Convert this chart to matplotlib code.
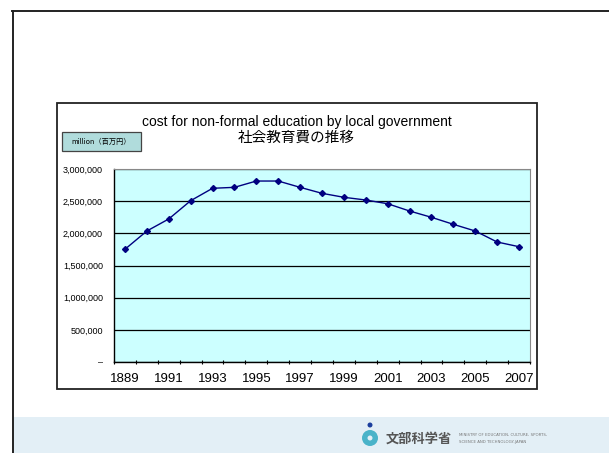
import matplotlib
matplotlib.use("Agg")
from matplotlib import pyplot as plt
from matplotlib.patches import Rectangle, Ellipse

# data (unit: million yen)
years = ["1889", "1990", "1991", "1992", "1993", "1994", "1995", "1996", "1997", "1998",
         "1999", "2000", "2001", "2002", "2003", "2004", "2005", "2006", "2007"]
cost = [1752000, 2036000, 2223000, 2507000, 2700000, 2715000, 2813000, 2813000, 2715000,
        2622000, 2560000, 2518000, 2460000, 2347000, 2249000, 2140000, 2036000, 1865000,
        1792000]
y_ticks = [0, 500000, 1000000, 1500000, 2000000, 2500000, 3000000]
y_labels = ["\u2013", "500,000", "1,000,000", "1,500,000", "2,000,000", "2,500,000", "3,000,000"]

W, H = 609, 453
fig = plt.figure(figsize=(W / 100, H / 100), dpi=100)
fig.patch.set_facecolor("white")

def fx(px):
    return px / W

def fy(py):
    return 1 - py / H

def dot(cx, cy, r, color):
    # round dot given in pixels
    fig.add_artist(Ellipse((fx(cx), fy(cy)), 2 * r / W, 2 * r / H,
                           transform=fig.transFigure, facecolor=color, edgecolor="none"))

# slide frame + bottom band
fig.add_artist(plt.Line2D([fx(12.5), fx(12.5)], [fy(11), 0], color="#222222", lw=1.4))
fig.add_artist(plt.Line2D([fx(12), 1], [fy(11), fy(11)], color="#222222", lw=1.4))
fig.add_artist(Rectangle((fx(13.5), 0), 1 - fx(13.5), fy(417), transform=fig.transFigure,
                         facecolor="#e3eff6", edgecolor="none"))

# ministry logo
dot(370, 438, 8, "#49b3c9")
dot(370, 438, 2.5, "#e3eff6")
dot(370, 425, 2.5, "#1c3f9e")
fig.text(fx(386), fy(439), "文部科学省", fontsize=9.5, family=["Noto Sans CJK JP"],
         color="#555555", va="center", ha="left", fontweight="bold")
fig.text(fx(459), fy(435), "MINISTRY OF EDUCATION, CULTURE, SPORTS,", fontsize=2.8,
         color="#777777", va="center", ha="left")
fig.text(fx(459), fy(442.5), "SCIENCE AND TECHNOLOGY-JAPAN", fontsize=2.8,
         color="#777777", va="center", ha="left")

# chart box
fig.add_artist(Rectangle((fx(57), fy(389)), fx(537) - fx(57), fy(103) - fy(389),
                         transform=fig.transFigure, facecolor="none",
                         edgecolor="#222222", lw=1.3))

fig.text(fx(297), fy(122), "cost for non-formal education by local government",
         fontsize=10, family=["Liberation Sans"], ha="center", va="center")
fig.text(fx(296), fy(138), "社会教育費の推移", fontsize=10.5,
         family=["Noto Sans CJK JP"], ha="center", va="center")

# unit box
fig.add_artist(Rectangle((fx(62), fy(151)), fx(141) - fx(62), fy(132) - fy(151),
                         transform=fig.transFigure, facecolor="#b0dcdc",
                         edgecolor="#444444", lw=0.9))
fig.text(fx(101.5), fy(141.5), "million（百万円）", fontsize=5.2,
         family=["Noto Sans CJK JP"], ha="center", va="center")

ax = fig.add_axes([fx(114), fy(362), fx(530) - fx(114), fy(169) - fy(362)])
ax.set_facecolor("#ccffff")
x = list(range(len(years)))
ax.plot(x, cost, color="#000080", lw=1.0, marker="D", markersize=3, zorder=3)
ax.set_xlim(-0.5, len(years) - 0.5)
ax.set_ylim(0, 3000000)

ax.set_yticks(y_ticks)
ax.set_yticklabels(y_labels, fontsize=6.5, family="Liberation Sans")
ax.tick_params(axis="y", length=0, pad=8)
ax.grid(axis="y", color="black", lw=0.9)
ax.set_axisbelow(True)

ax.set_xticks(x[::2])
ax.set_xticklabels(years[::2], fontsize=9.5, family="Liberation Sans")
ax.set_xticks([i - 0.5 for i in range(len(years) + 1)], minor=True)
ax.tick_params(axis="x", which="major", length=0, pad=8)
ax.tick_params(axis="x", which="minor", length=3, direction="inout", width=0.8)

for s in ["top", "right"]:
    ax.spines[s].set_color("#888888")
    ax.spines[s].set_linewidth(0.8)
for s in ["left", "bottom"]:
    ax.spines[s].set_color("black")
    ax.spines[s].set_linewidth(1.0)

fig.savefig("out.png", dpi=100)
